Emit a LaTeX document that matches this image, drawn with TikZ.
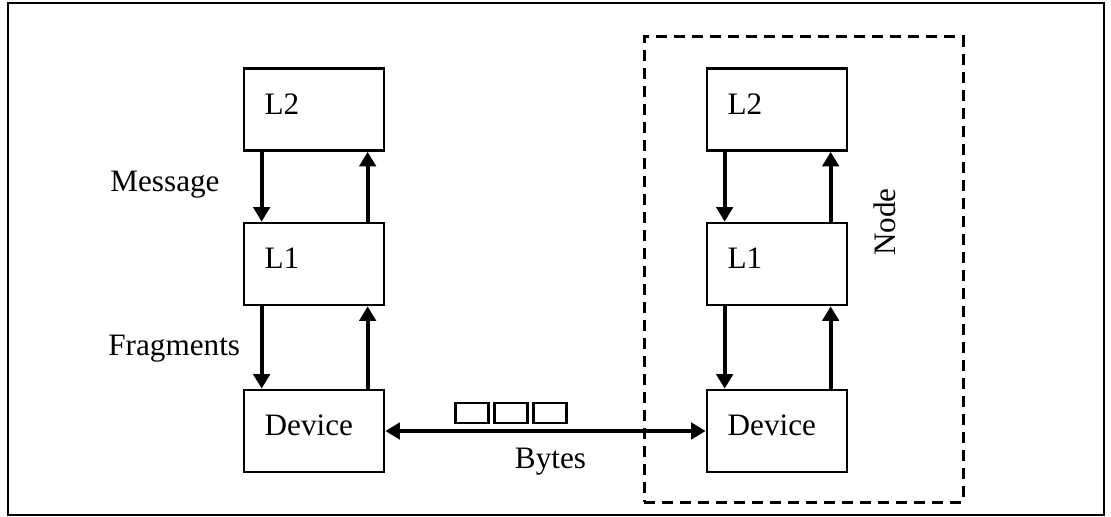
\documentclass[tikz,border=0pt]{standalone}
\usepackage{fontspec}
\setmainfont{Liberation Serif}
\usetikzlibrary{arrows.meta}
\begin{document}
\begin{tikzpicture}[x=0.5pt,y=-0.5pt,
  every node/.style={font=\fontsize{15.6}{18}\selectfont},
  layer/.style={draw, line width=1.35pt, minimum width=70pt, minimum height=41pt, inner sep=0pt},
  lbl/.style={inner sep=0pt, anchor=west, xshift=10.8pt, yshift=2.8pt},
  flow/.style={line width=2pt, -{Triangle[length=7.3pt,width=8.2pt]}},
  bothflow/.style={line width=2pt, {Triangle[length=7.3pt,width=8.2pt]}-{Triangle[length=7.3pt,width=8.2pt]}},
  bytebox/.style={draw, line width=1.4pt, minimum width=16.5pt, minimum height=10pt, inner sep=0pt},
  groupbox/.style={draw, line width=1.5pt, dash pattern=on 5.5pt off 3.5pt, minimum width=159.5pt, minimum height=232.5pt, inner sep=0pt}
]
\useasboundingbox (0,0) rectangle (1111,517);
% outer frame
\draw[line width=1.4pt] (8,3) rectangle (1104,515);

% node boundary on the right
\node[groupbox] (grp) at (803.5,269.5) {};

% left stack
\node[layer] (La2) at (314,109.5) {};
\node[layer] (La1) at (314,264) {};
\node[layer] (Lad) at (314,431) {};
% right stack
\node[layer] (Lb2) at (777,109.5) {};
\node[layer] (Lb1) at (777,264) {};
\node[layer] (Lbd) at (777,431) {};

\node[lbl] (ta2) at (La2.west) {L2};
\node[lbl] (ta1) at (La1.west) {L1};
\node[lbl] (tad) at (Lad.west) {Device};
\node[lbl] (tb2) at (Lb2.west) {L2};
\node[lbl] (tb1) at (Lb1.west) {L1};
\node[lbl] (tbd) at (Lbd.west) {Device};

% vertical flows, left
\draw[flow] ([xshift=9.5pt]La2.south west) -- ([xshift=9.5pt]La1.north west);
\draw[flow] ([xshift=62.5pt]La1.north west) -- ([xshift=62.5pt]La2.south west);
\draw[flow] ([xshift=9.5pt]La1.south west) -- ([xshift=9.5pt]Lad.north west);
\draw[flow] ([xshift=62.5pt]Lad.north west) -- ([xshift=62.5pt]La1.south west);
% vertical flows, right
\draw[flow] ([xshift=9.5pt]Lb2.south west) -- ([xshift=9.5pt]Lb1.north west);
\draw[flow] ([xshift=62.5pt]Lb1.north west) -- ([xshift=62.5pt]Lb2.south west);
\draw[flow] ([xshift=9.5pt]Lb1.south west) -- ([xshift=9.5pt]Lbd.north west);
\draw[flow] ([xshift=62.5pt]Lbd.north west) -- ([xshift=62.5pt]Lb1.south west);

% link between devices
\draw[bothflow] (Lad.east) -- (Lbd.west);
\node[bytebox] (by1) at (472,413) {};
\node[bytebox] (by2) at (511,413) {};
\node[bytebox] (by3) at (550,413) {};

% labels
\node[anchor=base west, inner sep=0pt] (msg) at (110,192) {Message};
\node[anchor=base west, inner sep=0pt] (frag) at (108,356) {Fragments};
\node[anchor=base, inner sep=0pt] (bytes) at (550.5,468) {Bytes};
\node[anchor=base, inner sep=0pt, rotate=90] (nodelbl) at (895,222) {Node};
\end{tikzpicture}
\end{document}
